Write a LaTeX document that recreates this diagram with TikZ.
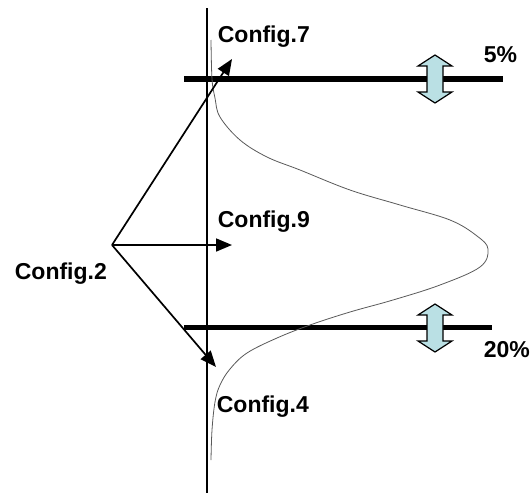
\documentclass[tikz,border=0pt]{standalone}
\usepackage{fontspec}
\setmainfont{Liberation Sans}
\usepackage{tikz}
\usetikzlibrary{arrows.meta}

\definecolor{markerblue}{RGB}{186,224,228}

\tikzset{
    lbl/.style={anchor=base west, inner sep=0pt, font=\fontsize{23}{27}\selectfont\bfseries},
    bar/.style={line width=5.5pt},
    updown/.style={draw=black, line width=1.2pt, fill=markerblue, line join=miter}
}

% double headed marker arrow
\newcommand{\markerarrow}[2]{%
    \draw[updown] (#1,#2-24) -- ++(17,11) -- ++(-9,0) -- ++(0,26)
        -- ++(9,0) -- (#1,#2+24) -- ++(-17,-11) -- ++(9,0)
        -- ++(0,-26) -- ++(-9,0) -- cycle;
}

\begin{document}
\begin{tikzpicture}[x=1pt, y=-1pt, ->, >={Stealth[length=16pt,width=13pt,inset=0pt]}, line width=1.7pt]

    \useasboundingbox (0,0) rectangle (530,493);

    % Axis and threshold bars
    \draw[-] (207,8) -- (207,493);
    \draw[-, bar] (184,79) -- (503,79);
    \draw[-, bar] (184,327.5) -- (492,327.5);

    % Distribution curve
    \draw[-, gray!70!black, line width=0.8pt] plot[smooth, tension=0.6] coordinates {
        (211,40) (212,79) (215,98) (220,117) (240,140) (267,157) (300,170)
        (350,190) (400,205) (450,220) (477,236) (488,249) (480,267) (440,285)
        (393,300) (350,312) (310,325) (277,338) (247,353) (230,369) (220,385)
        (215,402) (212,430) (211,460)};

    % Markers
    \markerarrow{435}{79}
    \markerarrow{435}{328}

    % Labels
    \node[lbl] (cfg7) at (217,42)  {Config.7};
    \node[lbl] (cfg9) at (217,227) {Config.9};
    \node[lbl] (cfg2) at (14,279)  {Config.2};
    \node[lbl] (cfg4) at (216,412) {Config.4};
    \node[lbl] (pct5)  at (483,62)  {5\%};
    \node[lbl] (pct20) at (483,357) {20\%};

    % Arrows
    \coordinate (hub) at (112,245);
    \coordinate (tip7) at (232,59);
    \coordinate (tip9) at (232,245);
    \coordinate (tip4) at (216,367);

    \draw (hub) -- (tip7);
    \draw (hub) -- (tip9);
    \draw (hub) -- (tip4);

\end{tikzpicture}
\end{document}
